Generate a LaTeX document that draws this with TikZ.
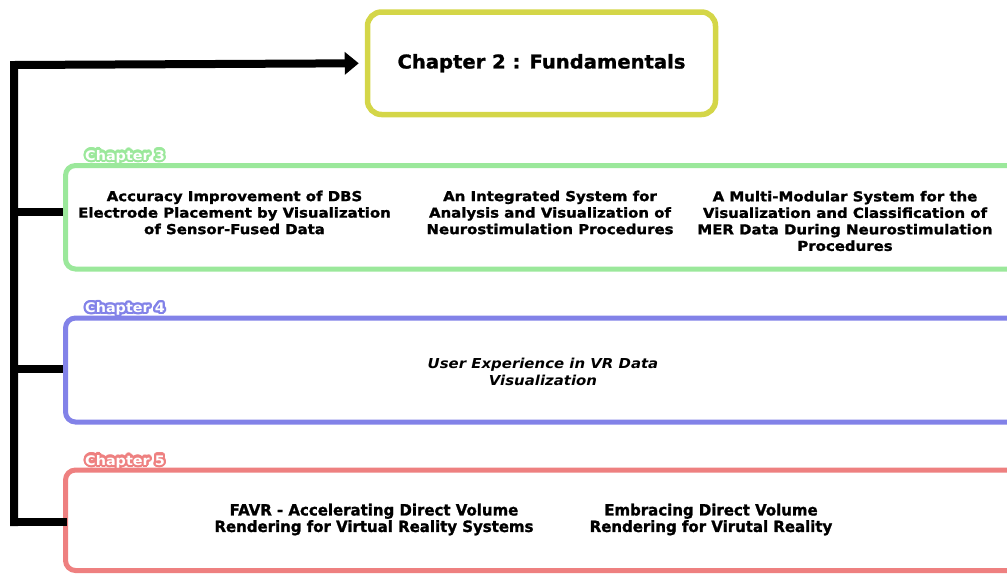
\documentclass[tikz,border=0pt]{standalone}
\usepackage{fontspec}
\setmainfont{DejaVu Sans}[FakeStretch=1.09, BoldFeatures={FakeBold=1.4}]
\newfontfamily\titlefont{DejaVu Sans}[FakeStretch=1.03, BoldFeatures={FakeBold=1.4}]
\newfontfamily\narrowfont{DejaVu Sans}[FakeStretch=0.965, BoldFeatures={FakeBold=1.4}]
\newfontfamily\tagfont{DejaVu Sans Bold}[FakeStretch=1.09]
\usepackage{contour}
\contourlength{2.2pt}
\contournumber{20}
\usetikzlibrary{arrows.meta}
\definecolor{titlecol}{RGB}{212,214,72}
\definecolor{greencol}{RGB}{155,232,155}
\definecolor{bluecol}{RGB}{130,130,232}
\definecolor{redcol}{RGB}{238,128,128}
\tikzset{
  conn/.style={line width=8pt, line cap=rect, draw=black},
  chapbox/.style={draw=#1, line width=5pt, rounded corners=10pt, inner sep=0pt,
    minimum width=964.5pt, fill=white},
  paper/.style={font=\bfseries\fontsize{13.7}{16.5}\selectfont, align=center, inner sep=0pt},
  narrowpaper/.style={font=\narrowfont\bfseries\fontsize{15.5}{16.5}\selectfont, align=center, inner sep=0pt},
  chaplabel/.style={font=\tagfont\fontsize{13.2}{15}\selectfont, inner sep=0pt},
}
% white lettering with a coloured rim
\newcommand\chaptag[2]{\contour{#1}{\textcolor{white}{#2}}}
\begin{document}
\begin{tikzpicture}[x=1pt,y=-1pt]
\useasboundingbox (0,0) rectangle (1007,574);
\clip (0,0) rectangle (1007,574);

% title box
\node[draw=titlecol, line width=5.5pt, rounded corners=14pt, minimum width=348pt,
  minimum height=102.5pt, inner sep=0pt, font=\titlefont\bfseries\fontsize{19}{23}\selectfont]
  (title) at (541.5,63.25) {Chapter 2 : Fundamentals};

% chapter frames
\node[chapbox=greencol, minimum height=103.5pt] (ch3) at (547.75,217.25) {};
\node[chapbox=bluecol, minimum height=104pt] (ch4) at (547.75,370) {};
\node[chapbox=redcol, minimum height=100.5pt] (ch5) at (547.75,520.25) {};

% chapter tags on the frame tops
\node[chaplabel] (t3) at (125,157.5) {\chaptag{greencol}{Chapter 3}};
\node[chaplabel] (t4) at (125,310) {\chaptag{bluecol}{Chapter 4}};
\node[chaplabel] (t5) at (125,462.5) {\chaptag{redcol}{Chapter 5}};

% connectors
\coordinate (trunktop) at (14,65);
\coordinate (trunkbot) at (14,522);
\coordinate (b3) at (14,212);
\coordinate (b4) at (14,369);
\draw[conn, -{Triangle[length=14pt,width=22pt]}, shorten >=6pt]
  (trunkbot) -- (trunktop) -- (title.west);
\draw[conn, line cap=butt] (b3) -- (b3 -| ch3.west);
\draw[conn, line cap=butt] (b4) -- (b4 -| ch4.west);
\draw[conn] (trunkbot) -- (trunkbot -| ch5.west);

% chapter 3 papers
\node[paper] (p31) at (234.5,212.5) {Accuracy Improvement of DBS\\Electrode Placement by Visualization\\of Sensor-Fused Data};
\node[paper] (p32) at (550,212.5) {An Integrated System for\\Analysis and Visualization of\\Neurostimulation Procedures};
\node[paper] (p33) at (845,221) {A Multi-Modular System for the\\Visualization and Classification of\\MER Data During Neurostimulation\\Procedures};

% chapter 4 paper
\node[paper, font=\bfseries\itshape\fontsize{13.7}{16.5}\selectfont] (p41) at (543,372) {User Experience in VR Data\\Visualization};

% chapter 5 papers
\node[narrowpaper] (p51) at (374,519.5) {FAVR - Accelerating Direct Volume\\Rendering for Virtual Reality Systems};
\node[narrowpaper] (p52) at (711,519.5) {Embracing Direct Volume\\Rendering for Virutal Reality};
\end{tikzpicture}
\end{document}
